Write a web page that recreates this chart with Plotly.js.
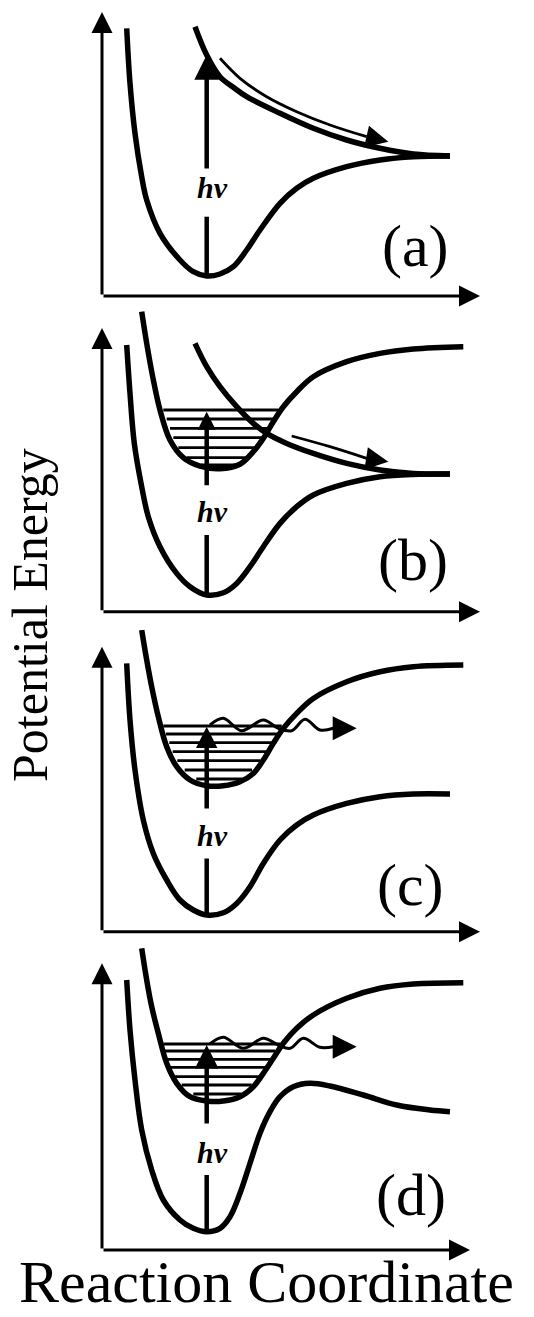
<!DOCTYPE html>
<html><head><meta charset="utf-8">
<script src="https://cdn.plot.ly/plotly-3.0.1.min.js"></script>
<style>html,body{margin:0;padding:0;background:#fff;}#chart{width:534px;height:1317px;}</style>
</head><body><div id="chart"></div>
<script>
// ---------- data (reaction coordinate / energy, arbitrary units) ----------
const panelLabels = ['(a)','(b)','(c)','(d)'];
const xTitle = 'Reaction Coordinate';
const yTitle = 'Potential Energy';
const photonLabel = 'hν';

// panel (a)
const groundA_x = [2.47,2.8,3.3,3.97,4.47,5.8,7.8,9.13,10.47,11.8,13.13,14.47,15.8,17.8,19.47,21.13,24.47,27.8,31.13,34.8];
const groundA_y = [26.77,21.27,16.27,11.93,9.6,6.27,3.6,2.43,2.0,2.2,2.93,4.6,6.6,9.27,10.77,11.77,12.93,13.6,13.93,14.0];
const repA_x = [9.3,10.47,11.8,13.13,14.47,17.8,21.13,24.47,27.8,31.13,34.8];
const repA_y = [26.93,24.1,21.93,20.87,19.93,18.27,16.77,15.6,14.77,14.2,14.0];
const pathA_x = [11.8,13.8,16.47,19.47,22.8,26.47,28.63];
const pathA_y = [23.77,21.77,19.93,18.43,17.1,15.93,15.43];

// panel (b)
const groundB_x = [2.47,2.8,3.23,3.97,4.63,5.8,7.47,8.8,10.47,12.13,13.47,14.8,16.13,17.8,19.47,21.13,24.47,27.8,31.13,34.8];
const groundB_y = [26.67,21.83,16.83,12.5,9.5,6.5,3.83,2.5,1.67,1.9,2.83,4.5,6.5,8.83,10.5,11.67,12.83,13.5,13.73,13.77];
const excB_x = [3.97,4.47,5.07,5.8,6.8,8.13,9.8,11.8,13.8,15.13,16.13,17.13,18.13,19.47,21.13,24.47,27.8,31.13,36.13];
const excB_y = [30.0,26.83,23.5,20.17,17.17,15.4,14.55,14.3,14.75,16.0,17.33,19.0,20.5,22.0,23.5,25.0,25.83,26.27,26.5];
const repB_x = [9.3,10.47,11.8,13.47,15.13,16.47,18.47,21.13,24.47,27.8,31.13,34.8];
const repB_y = [26.83,24.5,22.5,20.5,18.83,17.83,16.83,15.83,14.83,14.17,13.83,13.77];
const pathB_x = [18.97,22.8,26.47,28.63];
const pathB_y = [17.57,16.5,15.33,15.0];
const levelsB_y  = [20.17,19.27,18.33,17.4,16.4,15.4,14.67];
const levelsB_x0 = [6.13,6.47,6.8,7.13,7.63,8.47,9.9];
const levelsB_x1 = [17.63,17.13,16.53,15.97,15.4,14.5,13.4];

// panel (c)
const groundC_x = [2.47,2.8,3.3,4.13,5.13,6.47,7.8,9.13,10.47,12.13,13.47,14.8,16.13,17.8,19.47,21.13,24.47,27.8,31.13,34.8];
const groundC_y = [26.83,21.17,16.17,11.17,7.83,5.17,3.17,2.17,1.67,1.9,2.83,4.5,6.83,9.17,10.67,11.67,12.83,13.5,13.77,13.77];
const excC_x = [3.97,4.47,4.97,5.63,6.47,7.47,8.8,10.47,12.13,13.8,15.13,16.13,17.13,18.13,19.47,21.13,24.47,27.8,31.13,36.13];
const excC_y = [30.17,27.17,24.5,21.5,18.5,16.5,15.17,14.6,14.6,15.0,15.83,17.17,18.83,20.33,21.83,23.33,25.0,26.0,26.5,26.67];
const levelsC_y  = [20.57,19.77,18.9,18.0,17.1,16.17,15.27];
const levelsC_x0 = [6.13,6.4,6.73,7.07,7.53,8.27,9.43];
const levelsC_x1 = [17.97,17.5,17.0,16.5,15.83,15.0,14.0];
const waveC_x = [10.8,12.13,13.97,16.13,17.63,18.97,20.3,21.8,23.13,25.47];
const waveC_y = [20.67,21.34,20.1,21.17,20.34,20.1,21.24,20.17,20.34,20.34];

// panel (d)
const groundD_x = [2.47,2.8,3.3,3.97,4.97,6.13,7.8,9.13,10.47,11.8,12.8,13.8,14.8,15.8,16.8,17.8,19.13,20.8,22.8,26.13,29.47,32.8,34.8];
const groundD_y = [27.0,22.0,17.0,12.0,8.0,5.0,3.0,2.17,1.83,2.17,3.33,5.67,8.67,11.67,13.83,15.33,16.33,16.67,16.4,15.5,14.5,14.0,13.83];
const excD_x = [3.97,4.47,4.97,5.63,6.47,7.47,8.8,10.47,12.13,13.8,15.13,16.13,17.13,18.13,19.47,21.13,24.47,27.8,31.13,36.13];
const excD_y = [30.17,27.0,24.33,21.67,18.67,16.67,15.33,14.9,14.9,15.33,16.33,17.67,19.17,20.67,22.17,23.5,25.17,26.17,26.6,26.73];
const levelsD_y  = [20.6,19.9,19.07,18.27,17.33,16.5,15.6];
const levelsD_x0 = [6.13,6.3,6.53,6.8,7.3,7.97,9.13];
const levelsD_x1 = [17.8,17.3,16.8,16.4,15.8,14.97,13.97];
const waveD_x = [10.8,12.13,14.13,16.13,17.63,18.8,20.13,21.8,23.13,25.47];
const waveD_y = [20.6,21.27,20.17,21.17,20.5,20.17,21.17,20.27,20.33,20.33];

// photon (h nu) arrows: position, ground minimum, tip, text gap
const hvX      = [10.47,10.47,10.47,10.47];
const hvBase   = [2.0,1.67,1.67,1.83];
const hvTip    = [24.1,20.0,20.5,20.5];
const hvGapLow = [7.93,7.67,7.33,7.5];
const hvGapHigh= [12.6,12.5,12.17,12.5];

// ---------- layout (positions / styles) ----------
const W = 534, H = 1317;
const originPy = [296,611.7,931.7,1250];
const axisTipX = [37.8,37.8,37.8,36.8];
const axisTipY = [28.4,28.37,28.5,28.67];
const hvTextPos = [[11.05,10.9],[11.05,10.07],[11.05,9.67],[11.05,9.8]];
const labelPos = [[31.3,5.0],[31.05,5.17],[30.88,4.67],[30.88,5.5]];
const serif = 'Liberation Serif, Times New Roman, serif';

const layout = {width:W,height:H,margin:{l:0,r:0,t:0,b:0},paper_bgcolor:'#fff',plot_bgcolor:'rgba(0,0,0,0)',
  showlegend:false,annotations:[]};
originPy.forEach((oy,i)=>{
  const s = i===0?'':String(i+1);
  const bottom = oy+8, top = Math.max(0, oy-302);
  layout['xaxis'+s] = {domain:[92/W,502/W],range:[-1,40],visible:false,fixedrange:true,anchor:'y'+s};
  layout['yaxis'+s] = {domain:[1-bottom/H,1-top/H],range:[-0.8,(oy-top)/10],visible:false,fixedrange:true,anchor:'x'+s};
});

function ax(i){ return i===0?'':String(i+1); }
function curve(xs,ys,i,w,shape){
  return {type:'scatter',mode:'lines',x:xs,y:ys,xaxis:'x'+ax(i),yaxis:'y'+ax(i),
    line:{color:'#000',width:w,shape:shape||'spline',smoothing:1},hoverinfo:'skip',showlegend:false};
}
function levels(ys,x0,x1,i){
  const X=[],Y=[];
  ys.forEach((y,k)=>{X.push(x0[k],x1[k],null);Y.push(y,y,null);});
  return curve(X,Y,i,2.8,'linear');
}
function arrow(i,x0,y0,x1,y1,w,size){
  const s=ax(i);
  return {xref:'x'+s,yref:'y'+s,axref:'x'+s,ayref:'y'+s,x:x1,y:y1,ax:x0,ay:y0,text:'',
    showarrow:true,arrowhead:2,arrowwidth:w,arrowsize:size,arrowcolor:'#000',standoff:0,startstandoff:0};
}
function label(i,x,y,txt,size,italic){
  const s=ax(i);
  return {xref:'x'+s,yref:'y'+s,x:x,y:y,text:italic?'<b><i>'+txt+'</i></b>':txt,showarrow:false,
    xanchor:'center',yanchor:'middle',font:{family:serif,size:size,color:'#000'}};
}
function head(i,xs,ys,w,size){
  const n=xs.length;
  return arrow(i,xs[n-2],ys[n-2],xs[n-1],ys[n-1],w,size);
}

const CW = 5.5;
const traces = [
  curve(groundA_x,groundA_y,0,CW), curve(repA_x,repA_y,0,CW), curve(pathA_x.slice(0,-1),pathA_y.slice(0,-1),0,2.8),
  curve(groundB_x,groundB_y,1,CW), curve(excB_x,excB_y,1,CW), curve(repB_x,repB_y,1,CW),
  curve(pathB_x.slice(0,-1),pathB_y.slice(0,-1),1,2.8), levels(levelsB_y,levelsB_x0,levelsB_x1,1),
  curve(groundC_x,groundC_y,2,CW), curve(excC_x,excC_y,2,CW), levels(levelsC_y,levelsC_x0,levelsC_x1,2),
  curve(waveC_x.slice(0,-1),waveC_y.slice(0,-1),2,3),
  curve(groundD_x,groundD_y,3,CW), curve(excD_x,excD_y,3,CW), levels(levelsD_y,levelsD_x0,levelsD_x1,3),
  curve(waveD_x.slice(0,-1),waveD_y.slice(0,-1),3,3)
];

const hvHeadSize = [1.1,0.8,0.95,1.05];
for(let i=0;i<4;i++){
  layout.annotations.push(arrow(i,0,0,0,axisTipY[i],3,1.4));
  layout.annotations.push(arrow(i,0,0,axisTipX[i],0,3,1.4));
  traces.push(curve([hvX[i],hvX[i]],[hvBase[i],hvGapLow[i]],i,4.5,'linear'));
  layout.annotations.push(arrow(i,hvX[i],hvGapHigh[i],hvX[i],hvTip[i],4.5,hvHeadSize[i]));
  layout.annotations.push(label(i,hvTextPos[i][0],hvTextPos[i][1],photonLabel,30,true));
  layout.annotations.push(label(i,labelPos[i][0],labelPos[i][1],panelLabels[i],60,false));
}
layout.annotations.push(head(0,pathA_x,pathA_y,2.8,1.6));
layout.annotations.push(head(1,pathB_x,pathB_y,2.8,1.6));
layout.annotations.push(head(2,waveC_x,waveC_y,3,1.6));
layout.annotations.push(head(3,waveD_x,waveD_y,3,1.6));

layout.annotations.push({xref:'paper',yref:'paper',x:266/W,y:0,text:xTitle,showarrow:false,
  xanchor:'center',yanchor:'bottom',font:{family:serif,size:60,color:'#000'}});
layout.annotations.push({xref:'paper',yref:'paper',x:30/W,y:1-615/H,text:yTitle,showarrow:false,textangle:-90,
  xanchor:'center',yanchor:'middle',font:{family:serif,size:50,color:'#000'}});

Plotly.newPlot('chart',traces,layout,{staticPlot:true,displayModeBar:false});
</script></body></html>
